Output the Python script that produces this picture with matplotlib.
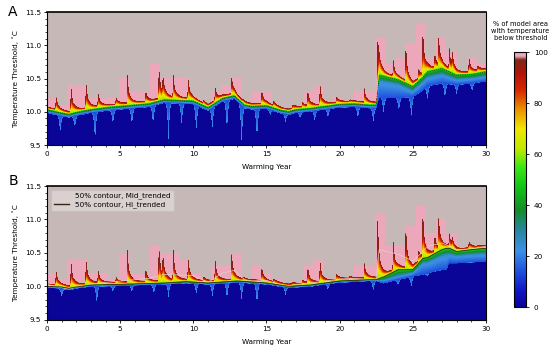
import numpy as np
import matplotlib
matplotlib.use("Agg")
import matplotlib.pyplot as plt
from matplotlib.colors import LinearSegmentedColormap, Normalize
from matplotlib.lines import Line2D
import matplotlib.cm as cm

# ---------------- data ----------------
# Panel A (Mid_trended): band nodes
A_years = [0, 1, 1.5, 2, 3, 4, 5, 6, 7, 8, 9, 10, 11, 12, 12.8, 13.5, 14, 15, 16, 16.5,
           17, 18, 19, 20, 21, 22, 22.5, 22.7, 24, 25, 25.6, 26, 27, 28, 29, 30]
A_t50 = [10.03, 9.98, 9.96, 9.99, 10.03, 10.06, 10.08, 10.10, 10.12, 10.18, 10.17, 10.16,
         10.06, 10.20, 10.24, 10.10, 10.08, 10.09, 10.02, 10.00, 10.03, 10.05, 10.08, 10.11,
         10.12, 10.10, 10.10, 10.55, 10.48, 10.38, 10.50, 10.60, 10.65, 10.55, 10.56, 10.60]
A_t30 = [10.00, 9.95, 9.93, 9.96, 10.00, 10.03, 10.05, 10.07, 10.09, 10.15, 10.14, 10.13,
         10.03, 10.17, 10.21, 10.07, 10.05, 10.06, 9.99, 9.97, 10.00, 10.02, 10.05, 10.08,
         10.09, 10.07, 10.07, 10.45, 10.40, 10.30, 10.42, 10.50, 10.55, 10.47, 10.49, 10.52]
A_t05 = [9.98, 9.93, 9.91, 9.94, 9.98, 10.01, 10.03, 10.05, 10.07, 10.13, 10.12, 10.11,
         10.01, 10.15, 10.19, 10.05, 10.03, 10.04, 9.97, 9.95, 9.98, 10.00, 10.03, 10.06,
         10.07, 10.05, 10.05, 10.20, 10.20, 10.22, 10.30, 10.38, 10.42, 10.40, 10.42, 10.45]

# Panel B (Hi_trended): band nodes
B_years = [0, 1, 1.5, 2, 3, 5, 8, 9.5, 11, 13, 15, 16.5, 18, 20, 22, 22.5, 23, 24, 25,
           25.7, 26, 27, 27.3, 27.5, 28, 29, 30]
B_t50 = [10.00, 9.99, 9.97, 9.99, 10.02, 10.03, 10.05, 10.07, 10.05, 10.08, 10.05, 10.00,
         10.02, 10.08, 10.10, 10.10, 10.14, 10.25, 10.25, 10.42, 10.43, 10.55, 10.57, 10.57,
         10.52, 10.55, 10.57]
B_t30 = [9.99, 9.98, 9.96, 9.98, 10.01, 10.02, 10.04, 10.06, 10.04, 10.07, 10.04, 9.99,
         10.01, 10.07, 10.09, 10.09, 10.09, 10.15, 10.20, 10.35, 10.35, 10.45, 10.46, 10.47,
         10.45, 10.47, 10.48]
B_t05 = [9.98, 9.97, 9.95, 9.97, 10.00, 10.01, 10.03, 10.05, 10.03, 10.06, 10.03, 9.98,
         10.00, 10.06, 10.08, 10.08, 10.05, 10.10, 10.15, 10.18, 10.20, 10.25, 10.25, 10.35,
         10.35, 10.36, 10.37]

# Warm spikes (year, tip temperature)
spike_years = [0.62, 1.64, 2.67, 3.5, 4.72, 5.5, 6.75, 7.65, 7.92, 8.63, 9.65, 10.7, 11.5,
               12.62, 13.4, 14.68, 15.5, 16.8, 17.47, 17.82, 18.66, 19.8, 20.7, 21.7, 22.6,
               23.67, 24.52, 25.4, 25.68, 26.5, 26.77, 27.5, 27.7, 28.85, 29.44]
A_tips = [10.24, 10.43, 10.48, 10.28, 10.23, 10.55, 10.33, 10.74, 10.50, 10.56, 10.52, 10.18,
          10.37, 10.55, 10.18, 10.35, 10.17, 10.10, 10.15, 10.34, 10.44, 10.23, 10.16, 10.35,
          11.18, 10.78, 11.08, 10.65, 11.30, 10.88, 11.13, 10.96, 10.83, 10.83, 10.70]
B_tips = [10.25, 10.42, 10.45, 10.25, 10.15, 10.55, 10.29, 10.69, 10.45, 10.57, 10.45, 10.15,
          10.40, 10.54, 10.12, 10.32, 10.12, 10.05, 10.10, 10.32, 10.42, 10.20, 10.15, 10.35,
          11.12, 10.69, 10.99, 10.55, 11.19, 10.80, 11.04, 10.80, 10.70, 10.69, 10.60]

# Cool dips (year, lowest temperature reached)
A_dip_years = [0.9, 1.9, 3.28, 4.5, 5.8, 7.25, 8.3, 9.2, 10.2, 11.3, 12.3, 13.3, 14.35, 15.25,
               16.3, 17.3, 18.3, 19.2, 21.25, 22.3, 23.0, 24.05, 24.9, 26.0, 27.2, 28.0, 29.05]
A_dip_bottom = [9.68, 9.75, 9.55, 9.80, 9.80, 9.80, 9.60, 9.80, 9.73, 9.75, 9.73, 9.53, 9.60,
                9.95, 9.85, 9.90, 9.85, 9.90, 9.90, 9.85, 10.00, 10.00, 9.92, 10.18, 10.20,
                10.25, 10.30]
B_dip_years = [1.0, 3.4, 4.5, 5.8, 7.3, 8.3, 10.2, 11.3, 12.3, 13.3, 14.35, 16.3, 19.2, 22.3,
               24.0, 24.9, 26.0]
B_dip_bottom = [9.85, 9.75, 9.92, 9.92, 9.90, 9.85, 9.90, 9.85, 9.82, 9.80, 9.75, 9.88, 9.95,
                9.95, 10.02, 10.00, 10.15]

cbar_ticks = [0, 20, 40, 60, 80, 100]

# ---------------- colormap ----------------
anchors = [
    (0.00, (10, 5, 150)), (0.06, (15, 20, 195)), (0.14, (30, 80, 222)),
    (0.22, (60, 145, 228)), (0.30, (40, 135, 160)), (0.38, (20, 140, 40)),
    (0.48, (20, 200, 20)), (0.55, (60, 232, 20)), (0.62, (190, 232, 0)),
    (0.70, (240, 230, 0)), (0.78, (232, 140, 0)), (0.85, (215, 40, 0)),
    (0.92, (175, 20, 10)), (0.97, (125, 40, 25)), (0.985, (236, 168, 186)),
    (0.996, (236, 168, 186)), (1.00, (198, 184, 183)),
]
cmap = LinearSegmentedColormap.from_list(
    "thr", [(p, tuple(c / 255 for c in col)) for p, col in anchors], N=1024)

xg = np.arange(0, 30.0001, 0.01)
Tg = np.arange(9.5, 11.5001, 0.004)


def build_field(yrs, t05, t30, t50, tips, dyrs, dbot):
    T05 = np.interp(xg, yrs, t05)
    T30 = np.interp(xg, yrs, t30)
    T50 = np.interp(xg, yrs, t50)
    hump = np.zeros_like(xg)
    needle = np.zeros_like(xg)
    for ts, tip in zip(spike_years, tips):
        base = np.interp(ts, yrs, t50)
        H = max(0.38 * (tip - base), 0.0)
        N = max(tip - base - 0.05 - H * 1.3, 0.0)
        dx = xg - ts
        hs = np.where(dx >= 0, np.exp(-np.clip(dx, 0, None) / 0.22), np.clip(1 + dx / 0.07, 0, None))
        ns = np.where(dx >= 0, np.clip(1 - dx / 0.18, 0, None) ** 2.0, np.clip(1 + dx / 0.07, 0, None))
        hump += H * hs
        needle += N * ns
    dip = np.zeros_like(xg)
    for xd, b in zip(dyrs, dbot):
        depth = max(np.interp(xd, yrs, t05) - b, 0.0)
        dx = np.abs(xg - xd)
        dip = np.maximum(dip, depth * np.clip(1 - dx / 0.22, 0, None) ** 2)
    T90 = T50 + 0.03 + hump
    shell = 0.012 + 0.3 * hump
    T97 = T90 + shell + needle
    Tdip = T05 - 0.004 - dip
    vals = [0, 22, 14, 24, 50, 60, 74, 88, 95, 97, 99.9, 100]
    P = np.empty((len(Tg), len(xg)))
    for j in range(len(xg)):
        t50j, t90j = T50[j], T90[j]
        kn = np.array([Tdip[j] - 0.004, Tdip[j], T05[j], T30[j], t50j,
                       t50j + 0.01, t50j + 0.55 * (t90j - t50j), t90j,
                       t90j + shell[j], T97[j], T97[j] + 0.008, T97[j] + 0.012])
        kn = np.maximum.accumulate(kn) + np.arange(len(kn)) * 1e-6
        P[:, j] = np.interp(Tg, kn, vals)
    # blocky pink zone around spikes (coarse grid cells)
    spk = (hump + needle) > 0.02
    xbin = np.floor(xg / 0.7).astype(int)
    for b in np.unique(xbin):
        m = xbin == b
        if spk[m].any():
            top = np.round(T97[m][spk[m]].max() - 0.05, 1)
            cols = np.where(m)[0]
            sub = P[:, cols]
            mask = (Tg[:, None] < top) & (sub >= 99.95)
            sub[mask] = 99.3
            P[:, cols] = sub
    return P


PA = build_field(A_years, A_t05, A_t30, A_t50, A_tips, A_dip_years, A_dip_bottom)
PB = build_field(B_years, B_t05, B_t30, B_t50, B_tips, B_dip_years, B_dip_bottom)

# ---------------- figure ----------------
fig = plt.figure(figsize=(5.5, 3.53), dpi=100)
axA = fig.add_axes([0.0855, 0.589, 0.798, 0.377])
axB = fig.add_axes([0.0855, 0.094, 0.798, 0.379])
cax = fig.add_axes([0.9345, 0.130, 0.022, 0.722])

mid_col = "#e2cfc8"
hi_col = "#3a2418"
fs = 5.2

for ax, P in ((axA, PA), (axB, PB)):
    ax.imshow(P, extent=[0, 30, 9.5, 11.5], origin="lower", aspect="auto",
              cmap=cmap, vmin=0, vmax=100, interpolation="nearest")
    ax.set_xlim(0, 30)
    ax.set_ylim(9.5, 11.5)
    ax.set_xticks([0, 5, 10, 15, 20, 25, 30])
    ax.set_xticks(np.arange(0, 31, 1), minor=True)
    ax.set_yticks([9.5, 10.0, 10.5, 11.0, 11.5])
    ax.set_yticks(np.arange(9.5, 11.51, 0.1), minor=True)
    ax.tick_params(labelsize=fs, length=2.5, width=0.6, pad=2)
    ax.tick_params(which="minor", length=1.5, width=0.5)
    ax.set_xlabel("Warming Year", fontsize=fs, labelpad=5)
    ax.set_ylabel("Temperature Threshold, \u02daC", fontsize=fs, labelpad=4)
    for s in ax.spines.values():
        s.set_linewidth(0.8)
    ax.spines["top"].set_linewidth(1.2)

axA.contour(xg, Tg, PA, levels=[50], colors=[hi_col], linewidths=0.6, linestyles=":")
axB.contour(xg, Tg, PA, levels=[50], colors=[mid_col], linewidths=0.5)
axB.contour(xg, Tg, PB, levels=[50], colors=[hi_col], linewidths=0.6)

handles = [Line2D([], [], color=mid_col, lw=1.0), Line2D([], [], color=hi_col, lw=1.0)]
leg = axB.legend(handles, ["50% contour, Mid_trended", "50% contour, Hi_trended"],
                 loc="upper left", fontsize=fs, frameon=True, framealpha=0.35,
                 edgecolor="#bbbbbb", handlelength=2.2, borderpad=0.4, labelspacing=0.3)

sm = cm.ScalarMappable(norm=Normalize(0, 100), cmap=cmap)
cb = fig.colorbar(sm, cax=cax, ticks=cbar_ticks)
cb.ax.tick_params(labelsize=fs, length=2, width=0.6)
cb.outline.set_linewidth(0.8)
fig.text(0.946, 0.912, "% of model area\nwith temperature\nbelow threshold",
         ha="center", va="center", fontsize=4.8, linespacing=1.15)

fig.text(0.015, 0.955, "A", fontsize=10)
fig.text(0.015, 0.475, "B", fontsize=10)

fig.savefig("out.png", dpi=100)
